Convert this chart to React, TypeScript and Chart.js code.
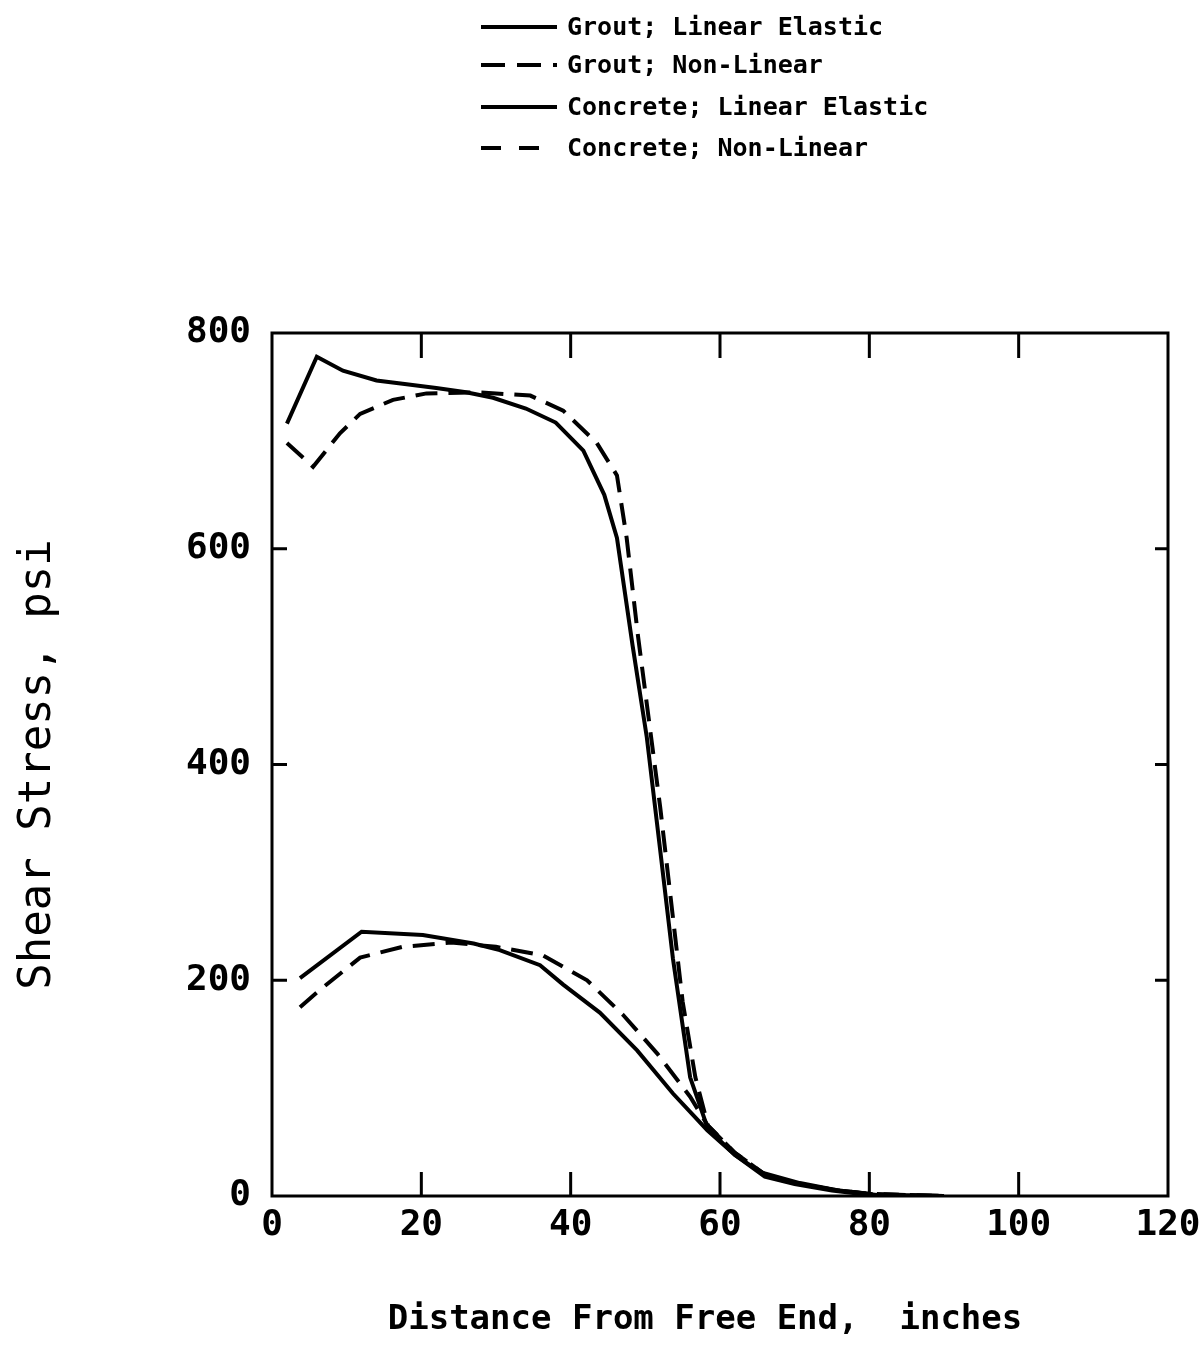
import React, { useEffect, useRef } from "react";
import { Chart, registerables } from "chart.js";

Chart.register(...registerables);

const xTicks = [0, 20, 40, 60, 80, 100, 120];
const yTicks = [0, 200, 400, 600, 800];

const groutLinearX = [2, 6, 9.5, 14, 17.5, 22, 26, 29.6, 34, 38, 41.7, 44.5, 46.2, 48.3, 50.2, 52, 53.7, 56, 58.4, 62, 65.4, 70.7, 76, 81, 90];
const groutLinearY = [716, 778, 765, 756, 753, 749, 745, 740, 730, 717, 691, 650, 610, 510, 425, 320, 220, 110, 62, 38, 22, 12, 5, 1, 0];

const groutNonlinX = [2, 5.5, 9.1, 11.8, 16.2, 20.7, 27.5, 34.6, 39, 43.5, 46.2, 47.5, 49, 50.5, 52, 53.5, 55, 56.7, 58.4, 62, 66, 70, 75, 80, 90];
const groutNonlinY = [698, 676, 707, 725, 738, 744, 745, 742, 728, 698, 668, 610, 520, 440, 360, 270, 180, 110, 65, 40, 20, 12, 6, 2, 0];

const concreteLinearX = [3.75, 12, 20.2, 27, 30.5, 35.9, 39, 43.9, 48.9, 53.7, 58.3, 62, 66, 70, 75, 80, 90];
const concreteLinearY = [202, 245, 242, 234, 228, 214, 196, 170, 135, 95, 61, 38, 18, 11, 5, 1, 0];

const concreteNonlinX = [3.75, 6.4, 11.8, 17.5, 24, 30, 36.3, 42.2, 47, 51.6, 56, 58.3, 62, 66, 70, 75, 80, 90];
const concreteNonlinY = [175, 191, 221, 231, 235, 231, 223, 200, 168, 132, 92, 66, 40, 20, 12, 6, 2, 0];

const seriesLabels = [
  "Grout; Linear Elastic",
  "Grout; Non-Linear",
  "Concrete; Linear Elastic",
  "Concrete; Non-Linear",
];

const xTitle = "Distance From Free End,  inches";
const yTitle = "Shear Stress, psi";

const zip = (xs: number[], ys: number[]) => xs.map((x, i) => ({ x, y: ys[i] }));

const mono = "'DejaVu Sans Mono', 'Liberation Mono', monospace";

const framePlugin = {
  id: "frame",
  afterDatasetsDraw(chart: any) {
    const { ctx, chartArea: a, scales } = chart;
    const xs = scales.x;
    const ys = scales.y;
    ctx.save();
    ctx.strokeStyle = "#000";
    ctx.lineWidth = 3;
    ctx.setLineDash([]);
    ctx.strokeRect(a.left, a.top, a.right - a.left, a.bottom - a.top);
    xTicks.slice(1, -1).forEach((v) => {
      const px = xs.getPixelForValue(v);
      ctx.beginPath();
      ctx.moveTo(px, a.bottom);
      ctx.lineTo(px, a.bottom - 24);
      ctx.moveTo(px, a.top);
      ctx.lineTo(px, a.top + 25);
      ctx.stroke();
    });
    yTicks.slice(1, -1).forEach((v) => {
      const py = ys.getPixelForValue(v);
      ctx.beginPath();
      ctx.moveTo(a.left, py);
      ctx.lineTo(a.left + 15, py);
      ctx.moveTo(a.right, py);
      ctx.lineTo(a.right - 13, py);
      ctx.stroke();
    });
    ctx.restore();
  },
  afterDraw(chart: any) {
    const { ctx } = chart;
    const rows = [27, 65, 107, 148];
    ctx.save();
    ctx.font = `bold 25px ${mono}`;
    ctx.fillStyle = "#000";
    ctx.textBaseline = "middle";
    ctx.textAlign = "left";
    chart.data.datasets.forEach((ds: any, i: number) => {
      const y = rows[i];
      ctx.strokeStyle = "#000";
      ctx.lineWidth = 4;
      ctx.setLineDash(ds.borderDash && ds.borderDash.length ? (i === 1 ? [24, 12] : [20, 18]) : []);
      ctx.beginPath();
      ctx.moveTo(481, y);
      ctx.lineTo(557, y);
      ctx.stroke();
      ctx.setLineDash([]);
      ctx.fillText(seriesLabels[i], 567, y + 1);
    });
    // x-axis title
    ctx.font = `bold 34px ${mono}`;
    ctx.textAlign = "center";
    ctx.fillText(xTitle, 705, 1320);
    ctx.restore();
  },
};

export default function App() {
  const ref = useRef<HTMLCanvasElement | null>(null);
  useEffect(() => {
    if (!ref.current) return;
    const common = {
      borderColor: "#000",
      backgroundColor: "#000",
      borderWidth: 4,
      pointRadius: 0,
      tension: 0,
      fill: false,
    };
    const chart = new Chart(ref.current, {
      type: "line",
      data: {
        datasets: [
          { ...common, label: seriesLabels[0], data: zip(groutLinearX, groutLinearY), borderDash: [] },
          { ...common, label: seriesLabels[1], data: zip(groutNonlinX, groutNonlinY), borderDash: [22, 11] },
          { ...common, label: seriesLabels[2], data: zip(concreteLinearX, concreteLinearY), borderDash: [] },
          { ...common, label: seriesLabels[3], data: zip(concreteNonlinX, concreteNonlinY), borderDash: [22, 11] },
        ],
      },
      options: {
        responsive: false,
        animation: false,
        maintainAspectRatio: false,
        layout: { padding: { top: 333, right: 34, left: 0, bottom: 0 } },
        plugins: { legend: { display: false }, tooltip: { enabled: false } },
        scales: {
          x: {
            type: "linear",
            min: 0,
            max: 120,
            afterFit: (s: any) => {
              s.height = 153;
            },
            afterBuildTicks: (s: any) => {
              s.ticks = xTicks.map((v) => ({ value: v }));
            },
            grid: { display: false },
            border: { display: false },
            ticks: {
              color: "#000",
              font: { family: mono, size: 36, weight: "bold" },
              padding: 0,
              maxRotation: 0,
              autoSkip: false,
            },
            title: { display: false, text: xTitle },
          },
          y: {
            type: "linear",
            min: 0,
            max: 800,
            afterFit: (s: any) => {
              s.width = 272;
            },
            afterBuildTicks: (s: any) => {
              s.ticks = yTicks.map((v) => ({ value: v }));
            },
            grid: { display: false },
            border: { display: false },
            ticks: {
              color: "#000",
              font: { family: mono, size: 36, weight: "bold" },
              padding: 13,
              autoSkip: false,
            },
            title: {
              display: true,
              text: yTitle,
              color: "#000",
              font: { family: mono, size: 44, weight: "normal" },
              padding: { top: 12, bottom: 0 },
            },
          },
        },
      },
      plugins: [framePlugin],
    } as any);
    return () => chart.destroy();
  }, []);
  return (
    <div style={{ position: "absolute", left: 0, top: 0, width: 1202, height: 1349, background: "#fff" }}>
      <canvas ref={ref} width={1202} height={1349} style={{ display: "block" }} />
    </div>
  );
}
